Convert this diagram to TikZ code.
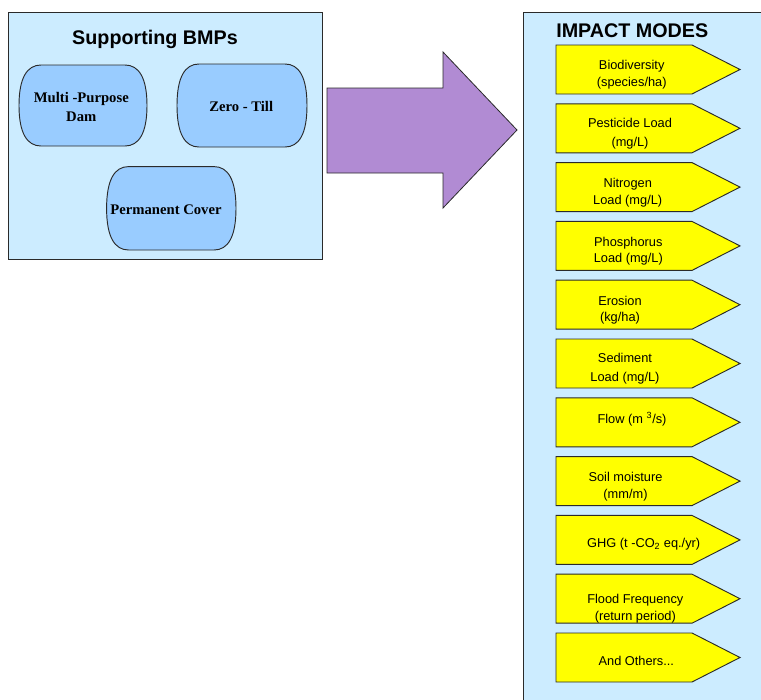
\documentclass[tikz,border=0pt]{standalone}
\usepackage{fontspec}
\setmainfont{Liberation Sans}
\newfontfamily\bmpfont{Liberation Serif}

\definecolor{panelblue}{HTML}{CCECFF}
\definecolor{bubbleblue}{HTML}{99CCFF}
\definecolor{arrowpurple}{HTML}{B18BD3}
\definecolor{modeyellow}{HTML}{FFFF00}
\definecolor{edgegray}{HTML}{2A2A2A}

% rounded "bubble" outline: centre x, centre y, half width, half height
\newcommand\bmpoutline[4]{%
  \filldraw[bubble] ({#1-#3+22},{#2-#4}) -- ({#1+#3-22},{#2-#4})
    .. controls ({#1+#3-8},{#2-#4}) and ({#1+#3},{#2-#4+13}) .. ({#1+#3},{#2})
    .. controls ({#1+#3},{#2+#4-13}) and ({#1+#3-8},{#2+#4}) .. ({#1+#3-22},{#2+#4})
    -- ({#1-#3+22},{#2+#4})
    .. controls ({#1-#3+8},{#2+#4}) and ({#1-#3},{#2+#4-13}) .. ({#1-#3},{#2})
    .. controls ({#1-#3},{#2-#4+13}) and ({#1-#3+8},{#2-#4}) .. cycle;}

\begin{document}
\begin{tikzpicture}[x=0.75pt,y=-0.75pt,
  panel/.style={fill=panelblue,draw=edgegray,line width=0.7pt},
  bubble/.style={fill=bubbleblue,draw=edgegray,line width=0.7pt},
  bubbletext/.style={font=\bmpfont\bfseries\fontsize{11}{14.5}\selectfont,align=center,inner sep=0pt},
  paneltitle/.style={font=\bfseries\fontsize{14.8}{17}\selectfont,inner sep=0pt},
  modebox/.style={fill=modeyellow,draw=edgegray,line width=0.7pt,line join=miter},
  modetext/.style={font=\fontsize{9.6}{12.5}\selectfont,align=center,inner sep=0pt},
  bigarrow/.style={fill=arrowpurple,draw=edgegray,line width=0.6pt}]

\useasboundingbox (0,0) rectangle (761,700);
\clip (0,0) rectangle (761,700);

% left panel with the supporting practices
\draw[panel] (8,12) rectangle (322,259);
\node[paneltitle,anchor=base] (bmptitle) at (155,44) {Supporting BMPs};

\bmpoutline{83}{105.5}{64}{40.5}
\node[bubbletext] (mpd) at (81.3,107) {Multi -Purpose\\Dam};
\bmpoutline{242}{105.5}{65}{41.5}
\node[bubbletext] (zt) at (241.2,106.5) {Zero - Till};
\bmpoutline{171.3}{208.3}{64.7}{41.7}
\node[bubbletext] (pc) at (166,209.7) {Permanent Cover};

% block arrow between the panels
\draw[bigarrow] (327,88) -- (443,88) -- (443,52) -- (517,130)
  -- (443,208) -- (443,173) -- (327,173) -- cycle;

% right panel with the impact modes
\draw[panel] (523,12) rectangle (790,730);
\node[paneltitle,anchor=base west] (imptitle) at (556,37) {IMPACT MODES};

\foreach \k in {0,...,10}{
  \pgfmathsetmacro\top{45+58.8*\k}
  \draw[modebox] (556,\top) -- (692,\top) -- (740,\top+24.5)
    -- (692,\top+49) -- (556,\top+49) -- cycle;
}

\node[modetext] (m1)  at (631.7,74.7)  {Biodiversity\\[-0.2pt](species/ha)};
\node[modetext] (m2)  at (630,133.7)   {Pesticide Load\\[1.2pt](mg/L)};
\node[modetext] (m3)  at (627.7,192.9) {Nitrogen\\Load (mg/L)};
\node[modetext] (m4)  at (628.3,251.2) {Phosphorus\\Load (mg/L)};
\node[modetext] (m5)  at (620,310)     {Erosion\\[-0.7pt](kg/ha)};
\node[modetext] (m6)  at (625,369)     {Sediment\\[1.8pt]Load (mg/L)};
\node[modetext] (m7)  at (632,419.5)   {Flow (m \textsuperscript{3}/s)};
\node[modetext] (m8)  at (625.5,486.9) {Soil moisture\\(mm/m)};
\node[modetext] (m9)  at (643.7,544.5) {GHG (t -CO\textsubscript{2} eq./yr)};
\node[modetext] (m10) at (635.3,608.7) {Flood Frequency\\[-0.3pt](return period)};
\node[modetext] (m11) at (636.3,660.7) {And Others...};

\end{tikzpicture}
\end{document}
